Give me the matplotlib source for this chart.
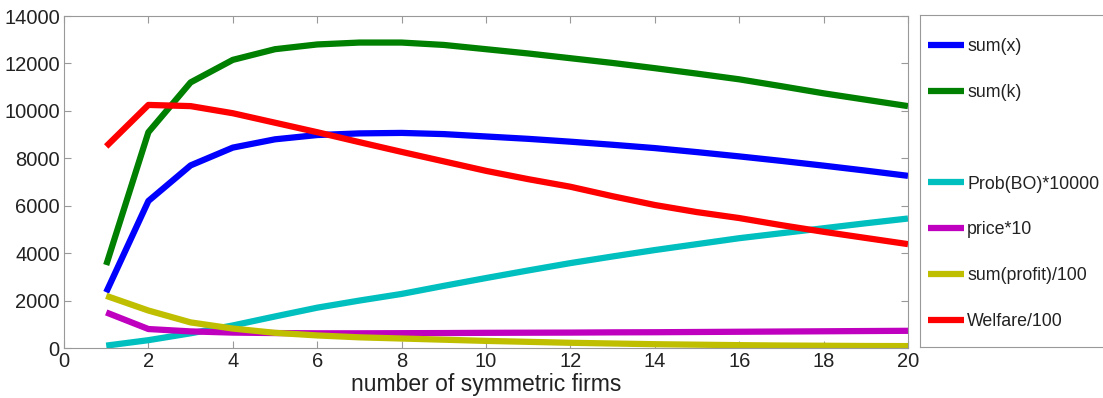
import numpy as np
import matplotlib.pyplot as plt
from matplotlib.lines import Line2D

plt.rcParams['font.family'] = ['Liberation Sans', 'DejaVu Sans']

n_firms = np.arange(1, 21)
sum_x = [2350, 6200, 7700, 8450, 8800, 8980, 9050, 9070, 9020, 8920,
         8820, 8700, 8570, 8430, 8260, 8080, 7890, 7690, 7480, 7260]
sum_k = [3500, 9100, 11200, 12150, 12600, 12800, 12880, 12880, 12780, 12600,
         12420, 12220, 12020, 11800, 11570, 11330, 11040, 10740, 10470, 10200]
prob_bo = [100, 330, 620, 950, 1330, 1700, 2000, 2280, 2620, 2950,
           3270, 3580, 3860, 4130, 4380, 4630, 4840, 5050, 5260, 5460]
price = [1500, 800, 700, 650, 630, 620, 620, 625, 630, 640,
         645, 650, 660, 665, 675, 685, 695, 705, 715, 725]
profit = [2200, 1580, 1080, 820, 640, 530, 450, 400, 350, 300,
          260, 220, 190, 160, 140, 120, 105, 95, 85, 80]
welfare = [8500, 10250, 10200, 9900, 9500, 9100, 8680, 8270, 7870, 7470,
           7120, 6800, 6400, 6030, 5730, 5480, 5180, 4900, 4640, 4380]

labels = ['sum(x)', 'sum(k)', 'Prob(BO)*10000', 'price*10',
          'sum(profit)/100', 'Welfare/100']
series = [sum_x, sum_k, prob_bo, price, profit, welfare]
colors = ['#0000ff', '#008000', '#00bfbf', '#bf00bf', '#bfbf00', '#ff0000']

fig = plt.figure(figsize=(11.03, 3.98), dpi=100)
ax = fig.add_axes([64 / 1103, 1 - 348 / 398, 844 / 1103, 332 / 398])

lines = []
for y, c, lab in zip(series, colors, labels):
    l, = ax.plot(n_firms, y, color=c, lw=4.5, label=lab, solid_capstyle='butt')
    lines.append(l)

ax.set_xlim(0, 20)
ax.set_ylim(0, 14000)
ax.set_xticks(np.arange(0, 21, 2))
ax.set_yticks(np.arange(0, 14001, 2000))
ax.tick_params(direction='in', top=True, right=True, labelsize=14.5,
               color='#999999', length=5, labelcolor='#222222', pad=3)
for s in ax.spines.values():
    s.set_color('#999999')
ax.set_xlabel('number of symmetric firms', fontsize=16.5, labelpad=1, color='#222222')

# legend box sits outside the axes, cut off at the right edge
lax = fig.add_axes([920 / 1103, 1 - 347 / 398, 0.3, 332 / 398])
lax.set_xticks([])
lax.set_yticks([])
for s in lax.spines.values():
    s.set_color('#999999')

blank = Line2D([], [], color='none')
handles = lines[:2] + [blank] + lines[2:]
hlabels = labels[:2] + [''] + labels[2:]
leg = lax.legend(handles, hlabels, loc='upper left', bbox_to_anchor=(-0.008, 0.962),
                 frameon=False, fontsize=12.8, labelspacing=1.62, handlelength=2.0,
                 handletextpad=0.2, borderaxespad=0.2)
for t in leg.get_texts():
    t.set_color('#222222')

fig.savefig('out.png', dpi=100)
